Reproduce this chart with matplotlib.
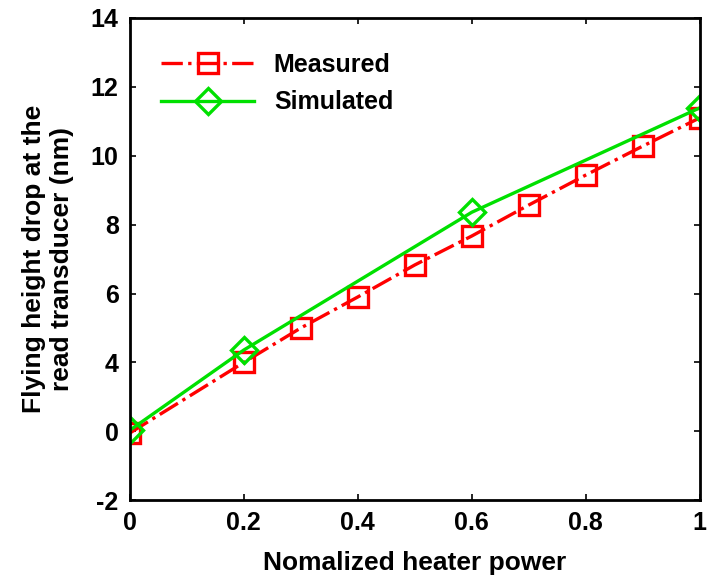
import matplotlib
matplotlib.use('Agg')
import matplotlib.pyplot as plt

plt.rcParams['font.family'] = ['Liberation Sans', 'DejaVu Sans']
plt.rcParams['font.weight'] = 'bold'

# data (y on the axis scale, ticks relabelled as in the original figure)
x_meas = [0, 0.2, 0.3, 0.4, 0.5, 0.6, 0.7, 0.8, 0.9, 1.0]
y_meas = [1.95, 4.0, 5.0, 5.9, 6.83, 7.67, 8.57, 9.44, 10.28, 11.1]
x_sim = [0, 0.2, 0.6, 1.0]
y_sim = [2.03, 4.36, 8.36, 11.39]
y_ticks = [0, 2, 4, 6, 8, 10, 12, 14]
y_tick_labels = ['-2', '0', '4', '6', '8', '10', '12', '14']
x_ticks = [0, 0.2, 0.4, 0.6, 0.8, 1.0]
x_tick_labels = ['0', '0.2', '0.4', '0.6', '0.8', '1']

fig = plt.figure(figsize=(7.09, 5.79), dpi=100)
ax = fig.add_axes([0.183, 0.136, 0.804, 0.833])

ax.plot(x_meas, y_meas, color='#ff0000', linestyle='-.', linewidth=2.4,
        marker='s', markersize=15, markerfacecolor='none', markeredgewidth=2.4,
        label='Measured')
ax.plot(x_sim, y_sim, color='#00e000', linestyle='-', linewidth=2.4,
        marker='D', markersize=13, markerfacecolor='none', markeredgewidth=2.4,
        label='Simulated')

ax.set_xlim(0, 1)
ax.set_ylim(0, 14)
ax.set_xticks(x_ticks)
ax.set_xticklabels(x_tick_labels)
ax.set_yticks(y_ticks)
ax.set_yticklabels(y_tick_labels)
ax.tick_params(direction='in', top=True, right=True, labelsize=18, width=1.2, length=4, pad=8)
for s in ax.spines.values():
    s.set_linewidth(2)

ax.set_xlabel('Nomalized heater power', fontsize=19, fontweight='bold', labelpad=11)
ax.set_ylabel('Flying height drop at the\nread transducer (nm)', fontsize=19,
              fontweight='bold', labelpad=12)

ax.legend(loc='upper left', frameon=False, fontsize=18, handlelength=3.7,
          handletextpad=0.8, labelspacing=0.55, bbox_to_anchor=(0.016, 0.975))

fig.savefig('out.png', dpi=100)
